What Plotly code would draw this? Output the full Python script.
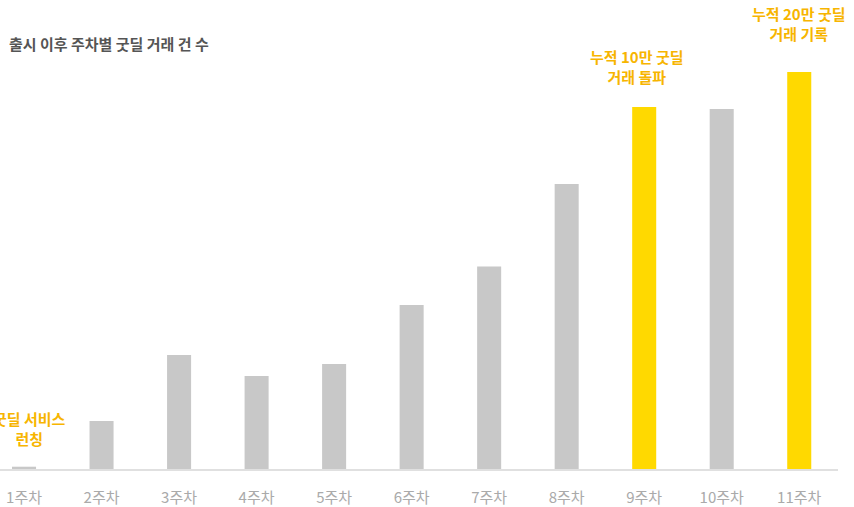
import plotly.graph_objects as go

# 주차별 굿딜 거래 건 수
weeks = ["1주차", "2주차", "3주차", "4주차", "5주차", "6주차",
         "7주차", "8주차", "9주차", "10주차", "11주차"]
deals = [115, 2400, 5700, 4650, 5250, 8200, 10130, 14250, 18100, 18000, 19850]
highlight_weeks = ["9주차", "11주차"]

# 막대 위 설명
notes = {
    "1주차": "굿딜 서비스<br>런칭",
    "9주차": "누적 10만 굿딜<br>거래 돌파",
    "11주차": "누적 20만 굿딜<br>거래 기록",
}

GRAY = "#c8c8c8"
YELLOW = "#ffd900"
NOTE_COLOR = "#f7b500"
FONT = "Noto Sans CJK KR"

colors = [YELLOW if w in highlight_weeks else GRAY for w in weeks]

fig = go.Figure()
fig.add_trace(go.Bar(
    x=weeks, y=deals,
    marker=dict(color=colors, line=dict(width=0)),
    width=0.31,
    hovertemplate="%{x}<br>%{y:,}건<extra></extra>",
))

# 위치 보정 (px)
shifts = {"1주차": (5, 16), "9주차": (-7, 18), "11주차": (0, 26)}
for w, txt in notes.items():
    v = deals[weeks.index(w)]
    xs, ys = shifts[w]
    fig.add_annotation(
        x=w, y=v, text=txt, showarrow=False,
        yanchor="bottom", xanchor="center",
        xshift=xs, yshift=ys,
        font=dict(family=FONT, size=15, color=NOTE_COLOR, weight="bold"),
        align="center",
    )

fig.update_layout(
    width=854, height=507,
    margin=dict(l=0, r=16, t=0, b=38),
    plot_bgcolor="white", paper_bgcolor="white",
    showlegend=False,
    font=dict(family=FONT),
    title=dict(
        text="출시 이후 주차별 굿딜 거래 건 수",
        x=9 / 854, xanchor="left", xref="container",
        y=1 - 45 / 507, yanchor="middle",
        font=dict(family=FONT, size=15, color="#555555", weight="bold"),
    ),
)
fig.update_xaxes(
    range=[-0.31, 10.5],
    showline=True, linecolor="#e0e0e0", linewidth=2,
    showgrid=False, ticks="",
    ticklabelstandoff=14,
    tickfont=dict(family=FONT, size=15, color="#aaaaaa"),
)
fig.update_yaxes(range=[0, 469 * 50], visible=False, showgrid=False)

# 브라우저 기본 여백 제거
fig.write_html("out.html", config={"displayModeBar": False},
               post_script="document.body.style.margin='0';")
